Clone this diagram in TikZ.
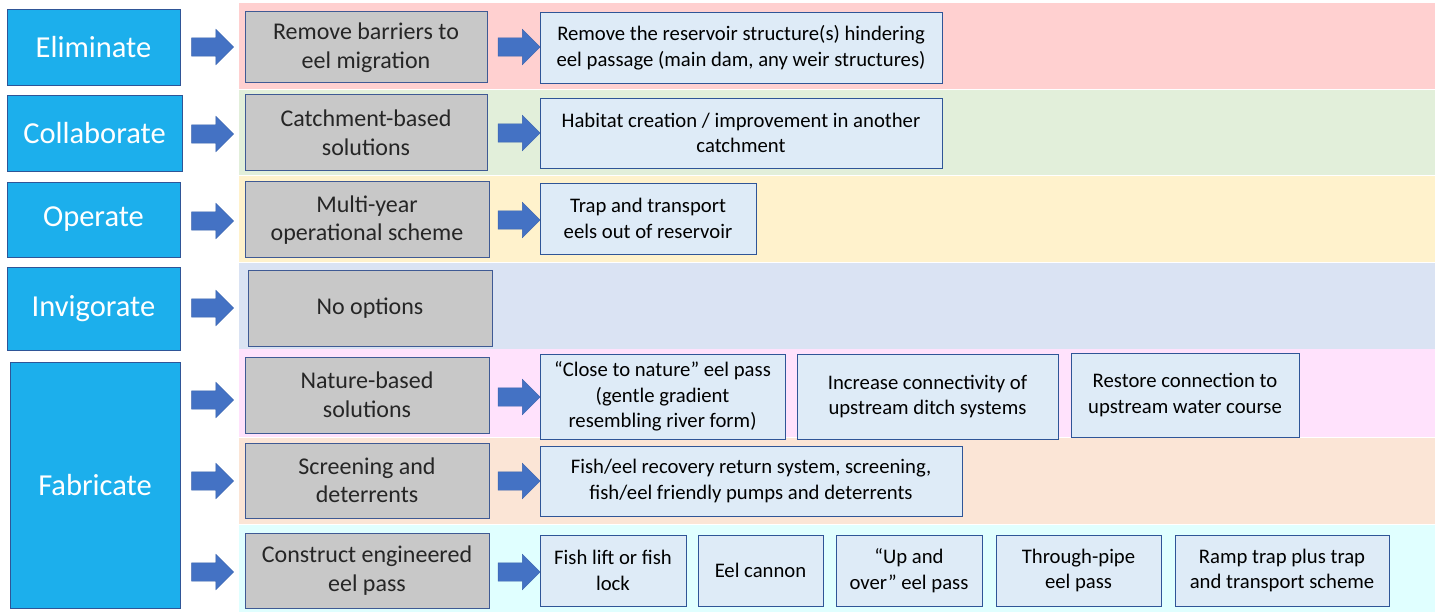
\documentclass[tikz,border=0pt]{standalone}
\usepackage{fontspec}
\setmainfont{Carlito}
\usetikzlibrary{shapes.arrows}
\definecolor{leftblue}{HTML}{1CAFEC}
\definecolor{leftbord}{HTML}{2F5597}
\definecolor{arrowc}{HTML}{4472C4}
\definecolor{arrowd}{HTML}{3A63AE}
\definecolor{grayf}{HTML}{C8C8C8}
\definecolor{grayb}{HTML}{3F5A94}
\definecolor{actf}{HTML}{DEEBF7}
\definecolor{actb}{HTML}{2F5597}
\definecolor{bandA}{HTML}{FFD0D0}
\definecolor{bandB}{HTML}{E2EFDA}
\definecolor{bandC}{HTML}{FFF2CC}
\definecolor{bandD}{HTML}{DAE3F3}
\definecolor{bandE}{HTML}{FFE2FC}
\definecolor{bandF}{HTML}{FBE5D6}
\definecolor{bandG}{HTML}{E0FFFF}
\definecolor{txtd}{HTML}{262626}
\newcommand\bx[7]{%
  \pgfmathsetmacro\bw{#5-#3}\pgfmathsetmacro\bh{#6-#4}%
  \node[#1, minimum width=\bw pt, minimum height=\bh pt] (#2) at ({(#3+#5)/2},{(#4+#6)/2}) {#7};}
\tikzset{
  lbl/.style={draw=leftbord, fill=leftblue, text=white, line width=0.9pt, inner sep=0pt,
    font=\fontsize{30.5}{36}\selectfont},
  opt/.style={draw=grayb, fill=grayf, text=txtd, line width=1pt, inner sep=0pt, align=center,
    font=\fontsize{24}{28.5}\selectfont},
  act/.style={draw=actb, fill=actf, text=black, line width=0.9pt, inner sep=0pt, align=center,
    font=\fontsize{20.7}{25.5}\selectfont},
  barrow/.style={single arrow, fill=arrowc, draw=arrowd, line width=0.4pt,
    minimum height=42pt, single arrow head extend=8.5pt, inner xsep=0pt, inner ysep=9pt},
}
\begin{document}
\begin{tikzpicture}[x={(1pt,0)}, y={(0,-1pt)}]
\useasboundingbox (0,0) rectangle (1435,612);
\fill[white] (0,0) rectangle (1435,612);
% bands
\fill[bandA] (239,3) rectangle (1435,89);
\fill[bandB] (239,90) rectangle (1435,175);
\fill[bandC] (239,176) rectangle (1435,262);
\fill[bandD] (239,263) rectangle (1435,349);
\fill[bandE] (239,349) rectangle (1435,437);
\fill[bandF] (239,438) rectangle (1435,524);
\fill[bandG] (239,525) rectangle (1435,612);
% left labels
\bx{lbl}{L1}{7}{9}{180}{85}{Eliminate}
\bx{lbl}{L2}{7}{95}{182}{171}{Collaborate}
\bx{lbl}{L3}{7}{182}{180}{257}{Operate}
\bx{lbl}{L4}{7}{267}{180}{350}{Invigorate}
\bx{lbl}{L5}{10}{362}{180}{608}{Fabricate}
% first arrows
\node[barrow] (A1) at (208,47) {};
\node[barrow] (A2) at (208,134) {};
\node[barrow] (A3) at (208,221) {};
\node[barrow] (A4) at (208,308) {};
\node[barrow] (A5) at (208,400) {};
\node[barrow] (A6) at (208,481) {};
\node[barrow] (A7) at (208,572) {};
% option boxes
\bx{opt}{G1}{245}{12}{487}{83}{Remove barriers to\\eel migration}
\bx{opt}{G2}{245}{95}{487}{171}{Catchment-based\\solutions}
\bx{opt}{G3}{245}{182}{489}{258}{Multi-year\\operational scheme}
\bx{opt}{G4}{248}{271}{492}{346}{No options}
\bx{opt}{G5}{245}{357}{489}{433}{Nature-based\\solutions}
\bx{opt}{G6}{245}{443}{489}{518}{Screening and\\deterrents}
\bx{opt}{G7}{245}{533}{489}{608}{Construct engineered\\eel pass}
% second arrows
\node[barrow] (B1) at (514.5,47) {};
\node[barrow] (B2) at (514.5,133) {};
\node[barrow] (B3) at (514.5,220) {};
\node[barrow] (B5) at (514.5,397) {};
\node[barrow] (B6) at (514.5,481) {};
\node[barrow] (B7) at (514.5,572) {};
% action boxes
\bx{act}{R1}{540}{12}{942}{83}{Remove the reservoir structure(s) hindering\\eel passage (main dam, any weir structures)}
\bx{act}{R2}{540}{98}{942}{168}{Habitat creation / improvement in another\\catchment}
\bx{act}{R3}{540}{183}{756}{254}{Trap and transport\\eels out of reservoir}
\bx{act}{R5a}{540}{354}{785}{439}{“Close to nature” eel pass\\(gentle gradient\\resembling river form)}
\bx{act}{R5b}{797}{354}{1058}{439}{Increase connectivity of\\upstream ditch systems}
\bx{act}{R5c}{1071}{353}{1299}{437}{Restore connection to\\upstream water course}
\bx{act}{R6}{540}{446}{962}{516}{Fish/eel recovery return system, screening,\\fish/eel friendly pumps and deterrents}
\bx{act}{R7a}{540}{535}{686}{606}{Fish lift or fish\\lock}
\bx{act}{R7b}{698}{535}{823}{606}{Eel cannon}
\bx{act}{R7c}{836}{535}{982}{606}{“Up and\\over” eel pass}
\bx{act}{R7d}{996}{535}{1161}{606}{Through-pipe\\eel pass}
\bx{act}{R7e}{1175}{535}{1389}{606}{Ramp trap plus trap\\and transport scheme}
\end{tikzpicture}
\end{document}
